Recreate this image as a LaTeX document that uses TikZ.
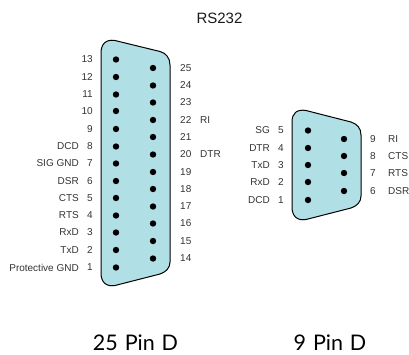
\documentclass[tikz,border=0pt]{standalone}
\usepackage{fontspec}
\setmainfont{Liberation Sans}
\newfontfamily\capfont[WordSpace=1.25]{Lato}
\begin{document}
\begin{tikzpicture}[x=1pt,y=-1pt,
  shell/.style={draw=black,fill=shellblue,line width=1pt,line join=round},
  pin/.style={circle,fill=black,inner sep=0pt,minimum size=6.4pt},
  lab/.style={font=\fontsize{10}{10}\selectfont,text=black!80,inner sep=0pt},
  llab/.style={lab,anchor=east},
  rlab/.style={lab,anchor=west},
  numc/.style={lab,anchor=center},
  ttl/.style={font=\fontsize{15}{15}\selectfont,text=black!90,inner sep=0pt},
  capt/.style={font=\capfont\fontsize{21.5}{21.5}\selectfont,text=black,inner sep=0pt,anchor=base}]
\definecolor{shellblue}{HTML}{B0DFE5}
\useasboundingbox (0,0) rectangle (409,354);
\node[ttl] (title) at (219.5,18) {RS232};
% 25 pin shell
\draw[shell] (101,53) .. controls (101,44) and (106,39) .. (115,40.5)
  -- (160,51.5) .. controls (166,53) and (170,58) .. (170,65)
  -- (170,262) .. controls (170,268) and (166,272) .. (160,274)
  -- (115,285.5) .. controls (106,287) and (101,282) .. (101,273) -- cycle;
% 9 pin shell
\draw[shell] (292,122) .. controls (292,113) and (297,109) .. (306,110.5)
  -- (351,122) .. controls (357,124) and (361,128) .. (361,135)
  -- (361,196) .. controls (361,202) and (357,206) .. (351,208)
  -- (306,219.5) .. controls (297,221) and (292,216) .. (292,207) -- cycle;
% 25 pin left column
\foreach \n/\y/\t in {13/59.5/,12/77/,11/94.5/,10/111/,9/129/,8/146.5/DCD,7/163.5/SIG GND,6/181/DSR,5/198/CTS,4/215.5/RTS,3/232.5/RxD,2/250/TxD,1/267.5/Protective GND}{
  \node[pin] (a\n) at (116,\y) {};
  \node[lab,anchor=east] (an\n) at (93,\y) {\n};
  \if\relax\t\relax\else\node[llab] (at\n) at (79,\y) {\t};\fi
}
% 25 pin right column
\foreach \n/\y/\t in {25/68/,24/85.5/,23/102.5/,22/120/RI,21/137/,20/154.5/DTR,19/172/,18/189/,17/206.5/,16/223.5/,15/241/,14/258.5/}{
  \node[pin] (a\n) at (153,\y) {};
  \node[rlab] (an\n) at (180,\y) {\n};
  \if\relax\t\relax\else\node[rlab] (at\n) at (200,\y) {\t};\fi
}
% 9 pin
\foreach \n/\y/\t in {5/130.5/SG,4/148/DTR,3/165/TxD,2/182/RxD,1/200/DCD}{
  \node[pin] (b\n) at (308,\y) {};
  \node[numc] (bn\n) at (281,\y) {\n};
  \node[llab] (bt\n) at (270,\y) {\t};
}
\foreach \n/\y/\t in {9/139/RI,8/156/CTS,7/173/RTS,6/191/DSR}{
  \node[pin] (b\n) at (344,\y) {};
  \node[numc] (bn\n) at (373,\y) {\n};
  \node[rlab] (bt\n) at (388,\y) {\t};
}
\node[capt] (c25) at (135.5,350) {25 Pin D};
\node[capt] (c9) at (330,350) {9 Pin D};
\end{tikzpicture}
\end{document}
